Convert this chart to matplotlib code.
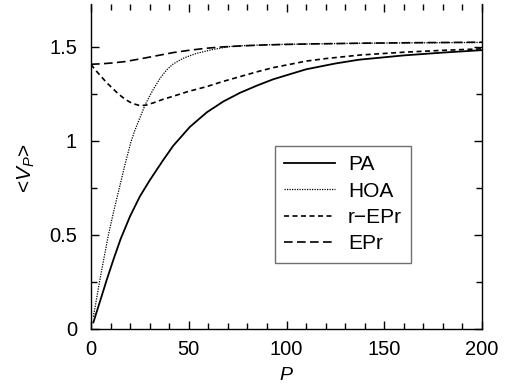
import matplotlib
matplotlib.use("Agg")
import matplotlib.pyplot as plt
from matplotlib.ticker import MultipleLocator, FuncFormatter

plt.rcParams['font.family'] = ['Liberation Sans', 'DejaVu Sans']
plt.rcParams['mathtext.fontset'] = 'custom'
plt.rcParams['mathtext.rm'] = 'Liberation Sans'
plt.rcParams['mathtext.it'] = 'Liberation Sans:italic'

# ---- data ----
pa_p = [1.2, 5, 8, 11.5, 15.2, 20, 25, 30, 36.7, 42.1, 50.6, 59.2, 67.7, 76.2, 85, 93.2,
        110, 125, 137, 160, 180, 200]
pa_v = [0.035, 0.16, 0.26, 0.37, 0.48, 0.6, 0.705, 0.79, 0.895, 0.975, 1.075, 1.152, 1.21,
        1.256, 1.295, 1.328, 1.381, 1.412, 1.432, 1.455, 1.47, 1.483]

hoa_p = [1.2, 2.5, 4.3, 6.5, 8.9, 11.7, 14.5, 17.4, 20.3, 22.2, 24.9, 27.6, 29.8, 31.9, 35.3,
         38.7, 42.1, 47.2, 54, 62.6, 71, 80, 95, 112, 140, 170, 200]
hoa_v = [0.065, 0.14, 0.248, 0.37, 0.5, 0.63, 0.75, 0.875, 0.99, 1.05, 1.12, 1.19, 1.235,
         1.275, 1.333, 1.378, 1.41, 1.44, 1.466, 1.487, 1.502, 1.508, 1.513, 1.516, 1.52,
         1.522, 1.524]

repr_p = [0, 2, 5, 8, 10, 14, 17.4, 21, 25, 28, 32, 37, 42.1, 50, 59.2, 67, 76.2, 85, 93.2,
          102, 110.3, 120, 137.6, 160, 180, 200]
repr_v = [1.408, 1.38, 1.345, 1.31, 1.29, 1.25, 1.222, 1.2, 1.188, 1.19, 1.203, 1.222, 1.238,
          1.264, 1.289, 1.315, 1.342, 1.368, 1.39, 1.408, 1.425, 1.438, 1.457, 1.472, 1.482,
          1.49]

epr_p = [0, 5, 10, 17.4, 24.9, 31, 36, 42.1, 50, 59, 67, 76, 90, 112, 140, 170, 200]
epr_v = [1.408, 1.41, 1.414, 1.422, 1.436, 1.448, 1.458, 1.47, 1.482, 1.493, 1.5, 1.505,
         1.511, 1.516, 1.52, 1.523, 1.525]

labels = ['PA', 'HOA', 'r\u2212EPr', 'EPr']

fig = plt.figure(figsize=(5.08, 3.88), dpi=100)
ax = fig.add_axes([91/508, 59/388, 391/508, 325.5/388])

ax.plot(pa_p, pa_v, color='black', lw=1.3, ls='-', label=labels[0])
ax.plot(hoa_p, hoa_v, color='black', lw=0.9, ls=(0, (1, 1)), label=labels[1])
ax.plot(repr_p, repr_v, color='black', lw=1.2, ls=(0, (3, 2.1)), label=labels[2])
ax.plot(epr_p, epr_v, color='black', lw=1.2, ls=(0, (5.2, 2.6)), label=labels[3])

ax.set_xlim(0, 200)
ax.set_ylim(0, 1.731)
ax.xaxis.set_major_locator(MultipleLocator(50))
ax.xaxis.set_minor_locator(MultipleLocator(10))
ax.yaxis.set_major_locator(MultipleLocator(0.5))
ax.yaxis.set_minor_locator(MultipleLocator(0.25))
ax.yaxis.set_major_formatter(FuncFormatter(lambda v, p: f'{v:g}'))
ax.tick_params(which='both', direction='in', top=True, right=True, labelsize=14.5, width=1.0)
ax.tick_params(which='major', length=6)
ax.tick_params(which='minor', length=4)
ax.tick_params(axis='x', which='both', pad=8)
ax.tick_params(axis='y', which='both', pad=10)
ax.spines['top'].set_visible(False)
for s in ['left', 'right', 'bottom']:
    ax.spines[s].set_linewidth(1.0)

ax.set_xlabel('$P$', fontsize=14)
ax.set_ylabel('<$V_P$>', fontsize=15)
ax.xaxis.set_label_coords(0.5, -0.118)
ax.yaxis.set_label_coords(-0.139, 0.495)

leg = ax.legend(loc='upper left', bbox_to_anchor=(0.4706, 0.5622), fontsize=15,
                handlelength=2.45, handletextpad=0.6, labelspacing=0.35,
                borderpad=0.45, borderaxespad=0, fancybox=False, framealpha=1)
leg.get_frame().set_edgecolor('#707070')
leg.get_frame().set_linewidth(1.0)

fig.savefig('out.png', dpi=100)
